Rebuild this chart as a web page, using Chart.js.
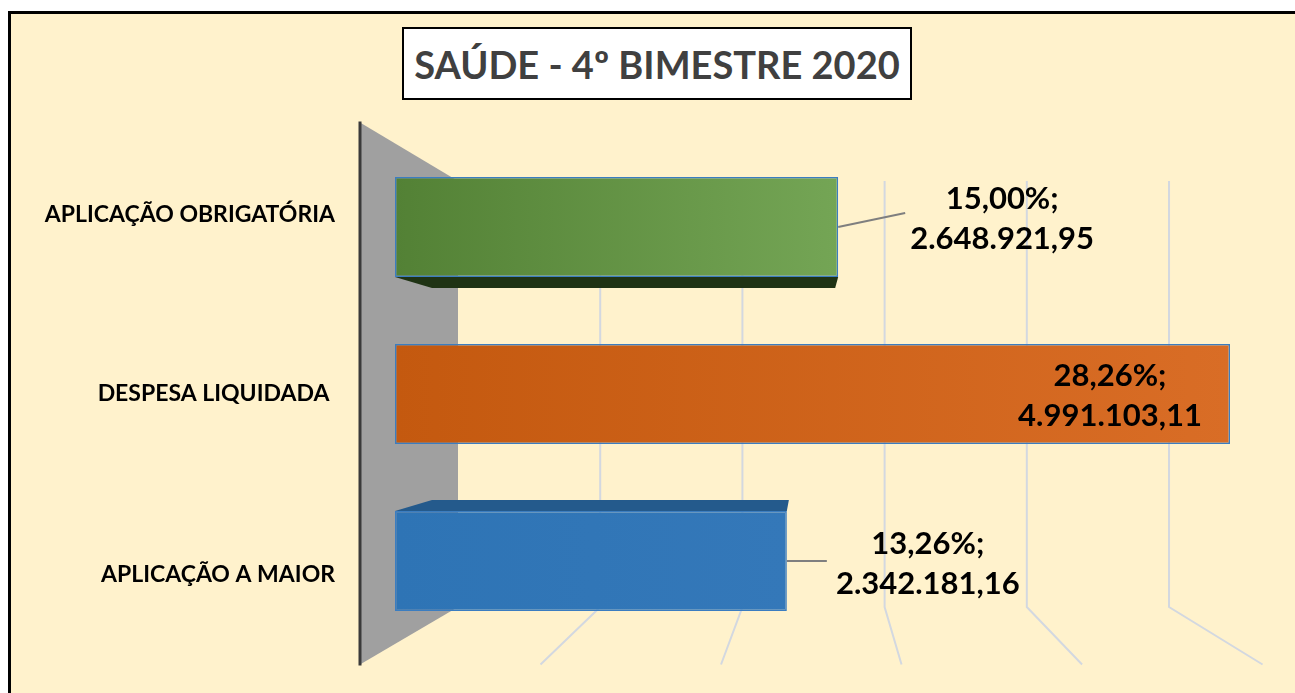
<!DOCTYPE html>
<html>
<head>
<meta charset="utf-8">
<script src="https://cdn.jsdelivr.net/npm/chart.js"></script>
<style>
    html, body { margin: 0; padding: 0; background: #fff; overflow: hidden; }
    #frame {
        position: absolute; left: 8px; top: 11px; width: 1300px; height: 700px;
        border-left: 3px solid #000; border-top: 3px solid #000; background: #FFF2CC;
    }
    #title {
        position: absolute; left: 402px; top: 27px; width: 506px; height: 69px;
        border: 2px solid #000; background: #fff; color: #404040;
        font: bold 38px Lato, "Noto Sans", sans-serif; text-align: center; line-height: 70px;
        z-index: 2;
    }
    #chartBox { position: absolute; left: 0; top: 0; width: 1295px; height: 693px; z-index: 1; }
</style>
</head>
<body>
<div id="frame"></div>
<div id="chartBox"><canvas id="saudeChart" width="1295" height="693"></canvas></div>
<div id="title">SAÚDE - 4º BIMESTRE 2020</div>

<script>
    // data
    const categories = ["APLICAÇÃO OBRIGATÓRIA", "DESPESA LIQUIDADA ", "APLICAÇÃO A MAIOR"];
    const values = [2648921.95, 4991103.11, 2342181.16];
    const percents = [15.00, 28.26, 13.26];
    const axisMax = 5000000;
    const axisStep = 1000000;

    // colours, left -> right of each bar
    const barColors = [["#538135", "#74A555"], ["#C4590F", "#D96D26"], ["#2E74B5", "#3478B9"]];
    // where each label sits, relative to the bar end / centre
    const labelPos = [
        { dx: 164, dy: -8, lead: [67, -14] },
        { dx: -120, dy: 2, lead: null },
        { dx: 141, dy: 3, lead: [40, 0] }
    ];
    // category labels drift with the perspective
    const catShift = [-12, 0, 14];

    function fmtBR(v) {
        let parts = v.toFixed(2).split(".");
        return parts[0].replace(/\B(?=(\d{3})+(?!\d))/g, ".") + "," + parts[1];
    }
    function fmtPct(p) {
        return p.toFixed(2).replace(".", ",") + "%;";
    }

    // fake 3D: back wall, perspective gridlines, front axis
    const wallPlugin = {
        id: "wall",
        beforeDatasetsDraw(chart) {
            let ctx = chart.ctx;
            let area = chart.chartArea;
            let xs = chart.scales.x;
            let ys = chart.scales.y;
            let L = area.left;
            let backTop = area.top + 37.5, backBottom = area.bottom - 37.5;
            let frontTop = area.top - 21, frontBottom = area.bottom + 20;
            let backX = p => L + 63 + (p - L) * 0.85;
            let frontX = p => L - 35 + (p - L) * 1.079;

            ctx.save();
            ctx.fillStyle = "#A0A0A0";
            ctx.beginPath();
            ctx.moveTo(frontX(L), frontTop);
            ctx.lineTo(backX(L), backTop);
            ctx.lineTo(backX(L), backBottom);
            ctx.lineTo(frontX(L), frontBottom);
            ctx.closePath();
            ctx.fill();

            ctx.strokeStyle = "#D3D8E0";
            ctx.lineWidth = 2;
            for (let v = axisStep; v <= axisMax; v += axisStep) {
                let p = xs.getPixelForValue(v);
                ctx.beginPath();
                ctx.moveTo(backX(p), backTop);
                ctx.lineTo(backX(p), backBottom);
                ctx.lineTo(frontX(p), frontBottom);
                ctx.stroke();
            }

            ctx.strokeStyle = "#3A3A3A";
            ctx.lineWidth = 3;
            ctx.beginPath();
            ctx.moveTo(frontX(L), frontTop - 1);
            ctx.lineTo(frontX(L), frontBottom + 1);
            ctx.stroke();

            // category labels
            ctx.font = "bold 23px Lato, 'Noto Sans', sans-serif";
            ctx.fillStyle = "#000";
            ctx.textAlign = "right";
            ctx.textBaseline = "middle";
            categories.forEach((c, i) => {
                ctx.fillText(c, L - 60, ys.getPixelForValue(i) + catShift[i]);
            });
            ctx.restore();
        },
        afterDatasetsDraw(chart) {
            let ctx = chart.ctx;
            let bars = chart.getDatasetMeta(0).data;
            ctx.save();

            // underside of the top bar
            let g = bars[0];
            ctx.fillStyle = "#1F3314";
            ctx.beginPath();
            ctx.moveTo(g.base, g.y + g.height / 2);
            ctx.lineTo(g.base + 37, g.y + g.height / 2 + 11);
            ctx.lineTo(g.x - 3, g.y + g.height / 2 + 11);
            ctx.lineTo(g.x, g.y + g.height / 2);
            ctx.closePath();
            ctx.fill();

            // top of the bottom bar
            let b = bars[2];
            ctx.fillStyle = "#245A8C";
            ctx.beginPath();
            ctx.moveTo(b.base, b.y - b.height / 2);
            ctx.lineTo(b.base + 37, b.y - b.height / 2 - 11);
            ctx.lineTo(b.x + 2, b.y - b.height / 2 - 11);
            ctx.lineTo(b.x, b.y - b.height / 2);
            ctx.closePath();
            ctx.fill();

            // data labels
            ctx.font = "bold 31px Lato, 'Noto Sans', sans-serif";
            ctx.fillStyle = "#000";
            ctx.textAlign = "center";
            ctx.textBaseline = "middle";
            bars.forEach((bar, i) => {
                let pos = labelPos[i];
                let cx = bar.x + pos.dx, cy = bar.y + pos.dy;
                if (pos.lead) {
                    ctx.strokeStyle = "#7F7F7F";
                    ctx.lineWidth = 2;
                    ctx.beginPath();
                    ctx.moveTo(bar.x, bar.y);
                    ctx.lineTo(bar.x + pos.lead[0], bar.y + pos.lead[1]);
                    ctx.stroke();
                }
                ctx.fillText(fmtPct(percents[i]), cx, cy - 20);
                ctx.fillText(fmtBR(values[i]), cx, cy + 20);
            });
            ctx.restore();
        }
    };

    let ctx = document.getElementById("saudeChart").getContext("2d");

    new Chart(ctx, {
        type: "bar",
        data: {
            labels: categories,
            datasets: [{
                data: values,
                backgroundColor: function (c) {
                    let chart = c.chart;
                    let i = c.dataIndex;
                    let xs = chart.scales.x;
                    if (!chart.chartArea || !xs || i === undefined) return barColors[0][0];
                    let grad = chart.ctx.createLinearGradient(chart.chartArea.left, 0, xs.getPixelForValue(values[i]), 0);
                    grad.addColorStop(0, barColors[i][0]);
                    grad.addColorStop(1, barColors[i][1]);
                    return grad;
                },
                borderColor: "#3B7DC0",
                borderWidth: 1.5,
                borderSkipped: false,
                barPercentage: 0.6,
                categoryPercentage: 1
            }]
        },
        options: {
            indexAxis: "y",
            responsive: false,
            animation: false,
            layout: { padding: { left: 0, right: 63.5, top: 143.5, bottom: 48.5 } },
            scales: {
                x: {
                    display: false,
                    min: 0,
                    max: axisMax,
                    ticks: { stepSize: axisStep }
                },
                y: {
                    grid: { display: false, drawTicks: false },
                    border: { display: false },
                    ticks: { display: false },
                    afterFit: function (scale) {
                        scale.width = 395;
                        scale.paddingTop = 0;
                        scale.paddingBottom = 0;
                    }
                }
            },
            plugins: {
                legend: { display: false },
                tooltip: { enabled: false }
            }
        },
        plugins: [wallPlugin]
    });
</script>
</body>
</html>
